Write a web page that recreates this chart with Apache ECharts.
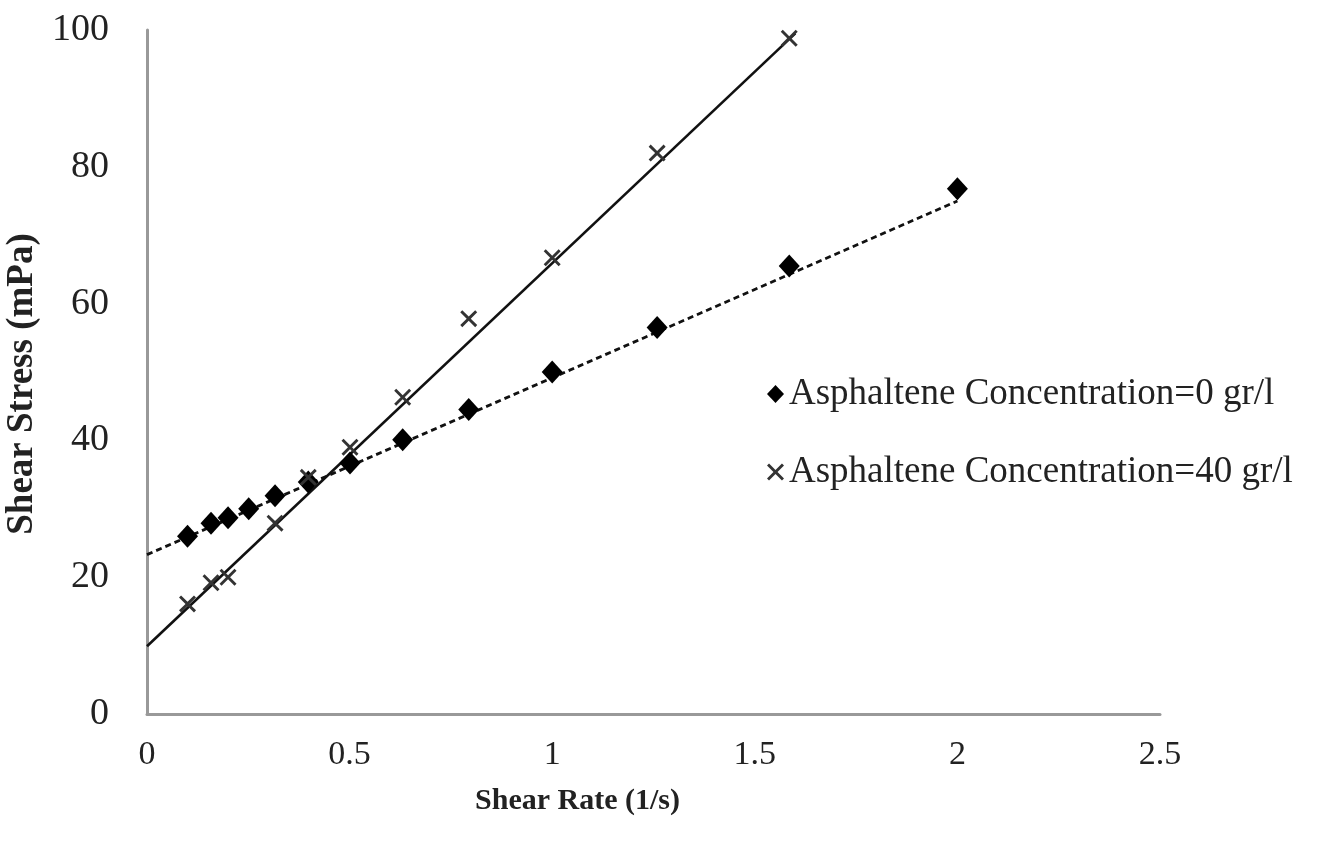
<!DOCTYPE html>
<html>
<head>
<meta charset="utf-8">
<script src="https://cdn.jsdelivr.net/npm/echarts@6/dist/echarts.min.js"></script>
<style>
  html, body { margin: 0; padding: 0; background: #fff; }
  #chart { width: 1338px; height: 843px; }
</style>
</head>
<body>
<div id="chart"></div>
<script>
// Shear rate (1/s) and shear stress (mPa) measurements
var rate0 = [0.1, 0.158, 0.2, 0.251, 0.316, 0.398, 0.501, 0.631, 0.794, 1.0, 1.259, 1.585, 2.0];
var stress0 = [26.0, 27.9, 28.7, 30.0, 31.9, 33.9, 36.7, 40.1, 44.5, 50.0, 56.5, 65.5, 76.8];
var rate40 = [0.1, 0.158, 0.2, 0.316, 0.398, 0.501, 0.631, 0.794, 1.0, 1.259, 1.585];
var stress40 = [16.1, 19.2, 20.0, 27.9, 34.6, 39.0, 46.3, 57.8, 66.7, 82.0, 98.8];

// Linear trend line end points
var trend0X = [0, 2.0];
var trend0Y = [23.3, 75.0];
var trend40X = [0, 1.6];
var trend40Y = [9.9, 99.5];

var seriesNames = ['Asphaltene Concentration=0 gr/l', 'Asphaltene Concentration=40 gr/l'];
var xTitle = 'Shear Rate (1/s)';
var yTitle = 'Shear Stress (mPa)';

function pairs(xs, ys) {
  return xs.map(function (x, i) { return [x, ys[i]]; });
}

// Thin "x" cross drawn as a filled outline
var crossPath = 'path://M0,1.2L1.2,0L5,3.8L8.8,0L10,1.2L6.2,5L10,8.8L8.8,10L5,6.2L1.2,10L0,8.8L3.8,5Z';
var serif = '"Liberation Serif", "Times New Roman", serif';

var chart = echarts.init(document.getElementById('chart'));
chart.setOption({
  backgroundColor: '#ffffff',
  animation: false,
  grid: { left: 147, right: 178, top: 30, bottom: 129, containLabel: false, outerBoundsMode: 'none' },
  legend: {
    orient: 'vertical',
    left: 762,
    top: 368,
    itemGap: 36,
    itemWidth: 17,
    itemHeight: 18,
    textStyle: { fontFamily: serif, fontSize: 37, color: '#222', lineHeight: 42 },
    data: [
      { name: seriesNames[0], icon: 'diamond' },
      { name: seriesNames[1], icon: crossPath }
    ]
  },
  xAxis: {
    type: 'value',
    min: 0, max: 2.5, interval: 0.5,
    name: xTitle,
    nameLocation: 'middle',
    nameGap: 72,
    nameTextStyle: { fontFamily: serif, fontSize: 30, fontWeight: 'bold', color: '#222', padding: [0, 152, 0, 0] },
    axisLine: { lineStyle: { color: '#999', width: 3 } },
    axisTick: { show: false },
    splitLine: { show: false },
    axisLabel: { fontFamily: serif, fontSize: 34, color: '#222', margin: 24 }
  },
  yAxis: {
    type: 'value',
    min: 0, max: 100, interval: 20,
    name: yTitle,
    nameLocation: 'middle',
    nameGap: 88,
    nameRotate: 90,
    nameTextStyle: { fontFamily: serif, fontSize: 37, fontWeight: 'bold', color: '#222', padding: [0, 24, 0, 0] },
    axisLine: { show: true, lineStyle: { color: '#999', width: 3 } },
    axisTick: { show: false },
    splitLine: { show: false },
    axisLabel: { fontFamily: serif, fontSize: 38, color: '#222', margin: 38 }
  },
  series: [
    {
      name: 'trend0',
      type: 'line',
      data: pairs(trend0X, trend0Y),
      showSymbol: false,
      silent: true,
      lineStyle: { color: '#111', width: 2.8, type: [6, 4] },
      z: 1
    },
    {
      name: 'trend40',
      type: 'line',
      data: pairs(trend40X, trend40Y),
      showSymbol: false,
      silent: true,
      lineStyle: { color: '#111', width: 2.6 },
      z: 1
    },
    {
      name: seriesNames[0],
      type: 'scatter',
      data: pairs(rate0, stress0),
      symbol: 'diamond',
      symbolSize: [21, 23],
      itemStyle: { color: '#000', opacity: 1 },
      z: 3
    },
    {
      name: seriesNames[1],
      type: 'scatter',
      data: pairs(rate40, stress40),
      symbol: crossPath,
      symbolSize: 17,
      itemStyle: { color: '#333', opacity: 1 },
      z: 3
    }
  ]
});
</script>
</body>
</html>
